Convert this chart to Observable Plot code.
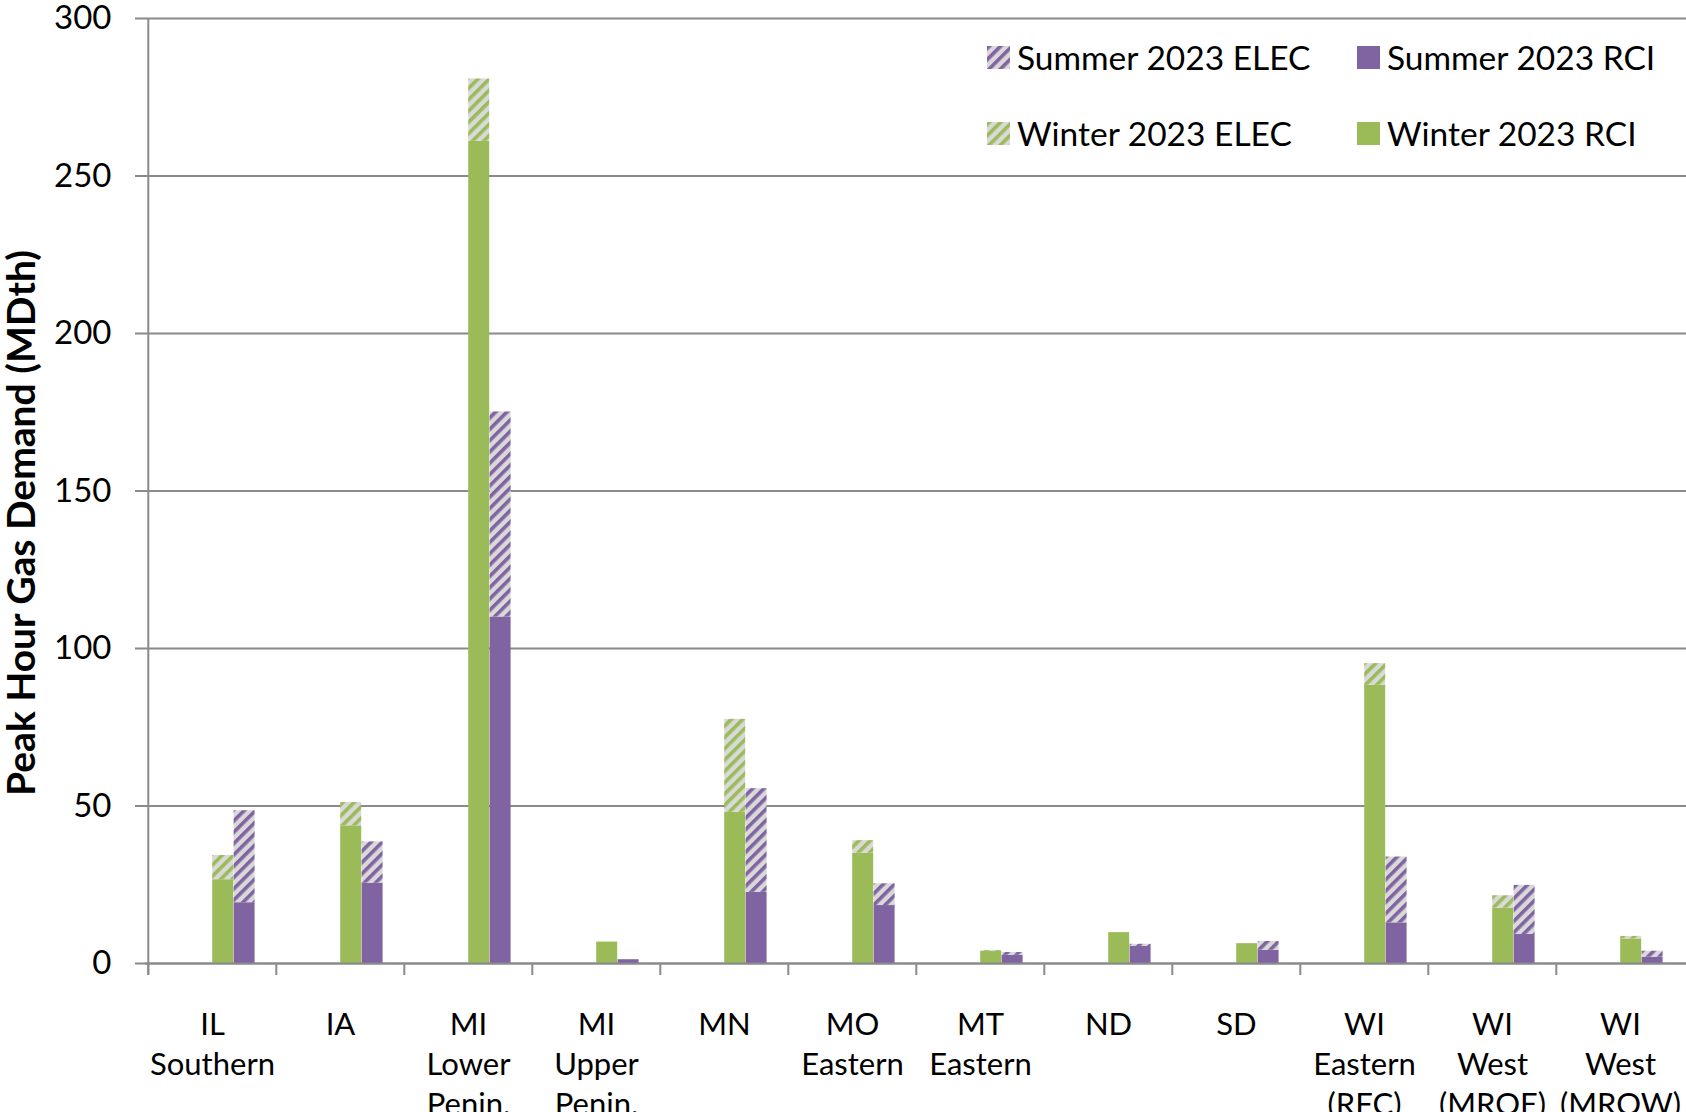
<!DOCTYPE html>
<html>
<head>
<meta charset="utf-8">
<script src="https://cdn.jsdelivr.net/npm/d3@7"></script>
<script src="https://cdn.jsdelivr.net/npm/@observablehq/plot@0.6"></script>
<style>
  body { margin: 0; background: #fff; font-family: Lato, sans-serif; }
  #wrap { position: relative; width: 1686px; height: 1112px; overflow: hidden; }
  #legend { position: absolute; left: 987px; top: 37px; display: grid;
            grid-template-columns: 370px auto; grid-auto-rows: 76px; }
  .item { display: flex; align-items: center; height: 40px; font-size: 33.5px; color: #000; white-space: nowrap; }
  .item svg { margin-right: 7px; flex: none; }
</style>
</head>
<body>
<svg width="0" height="0" style="position:absolute">
  <defs>
    <pattern id="hatch-w" patternUnits="userSpaceOnUse" width="8" height="8" patternTransform="rotate(45)">
      <rect width="8" height="8" fill="#d9d9d9"></rect>
      <rect width="3.6" height="8" fill="#9bbb59"></rect>
    </pattern>
    <pattern id="hatch-s" patternUnits="userSpaceOnUse" width="8" height="8" patternTransform="rotate(45)">
      <rect width="8" height="8" fill="#d9d9d9"></rect>
      <rect width="3.6" height="8" fill="#8064a2"></rect>
    </pattern>
  </defs>
</svg>
<div id="wrap">
  <div id="chart"></div>
  <div id="legend"></div>
</div>
<script>
// ---- data ----
const regions = ["IL\nSouthern", "IA", "MI\nLower\nPenin.", "MI\nUpper\nPenin.", "MN", "MO\nEastern",
                 "MT\nEastern", "ND", "SD", "WI\nEastern\n(RFC)", "WI\nWest\n(MROE)", "WI\nWest\n(MROW)"];
const winterRCI  = [26.6, 43.7, 261.0, 6.8, 48.0, 35.0, 3.8, 9.8, 6.3, 88.3, 17.6, 7.8];
const winterELEC = [7.7, 7.4, 19.8, 0.0, 29.5, 4.0, 0.3, 0.0, 0.0, 6.9, 3.9, 0.8];
const summerRCI  = [19.3, 25.5, 110.0, 1.2, 22.6, 18.4, 2.6, 5.4, 4.2, 12.9, 9.2, 2.0];
const summerELEC = [29.2, 13.1, 65.1, 0.0, 32.9, 6.9, 0.9, 0.7, 2.8, 20.9, 15.6, 1.9];
const seriesNames = ["Winter 2023 RCI", "Winter 2023 ELEC", "Summer 2023 RCI", "Summer 2023 ELEC"];
const seriesFills = ["#9bbb59", "url(#hatch-w)", "#8064a2", "url(#hatch-s)"];
const legendOrder = ["Summer 2023 ELEC", "Summer 2023 RCI", "Winter 2023 ELEC", "Winter 2023 RCI"];
const yTicks = [0, 50, 100, 150, 200, 250, 300];
const yTitle = "Peak Hour Gas Demand (MDth)";

// ---- table ----
const rows = [];
regions.forEach((r, i) => {
  rows.push({region: r, season: "Winter", order: 0, series: seriesNames[0], value: winterRCI[i]});
  rows.push({region: r, season: "Winter", order: 1, series: seriesNames[1], value: winterELEC[i]});
  rows.push({region: r, season: "Summer", order: 0, series: seriesNames[2], value: summerRCI[i]});
  rows.push({region: r, season: "Summer", order: 1, series: seriesNames[3], value: summerELEC[i]});
});

const W = 1686, H = 1112;
const mL = 145, mR = 0, mT = 18, mB = 149;
const band = (W - mL - mR) / regions.length;
const slot = band / 6;
const grid = "#8a8a8a";

const chart = Plot.plot({
  width: W, height: H,
  marginLeft: mL, marginRight: mR, marginTop: mT, marginBottom: mB,
  style: {fontFamily: "Lato, sans-serif", fontSize: "30px", color: "#000", background: "#fff", overflow: "visible"},
  x: {domain: regions, padding: 0, axis: null},
  y: {domain: [0, 300], axis: null},
  color: {domain: seriesNames, range: seriesFills},
  marks: [
    Plot.ruleY(yTicks, {stroke: grid, strokeWidth: 2, insetLeft: -10}),
    Plot.barY(rows.filter(d => d.season === "Winter"),
      Plot.stackY({x: "region", y: "value", fill: "series", order: "order",
                   insetLeft: 3 * slot, insetRight: 2 * slot})),
    Plot.barY(rows.filter(d => d.season === "Summer"),
      Plot.stackY({x: "region", y: "value", fill: "series", order: "order",
                   insetLeft: 4 * slot, insetRight: slot})),
    Plot.ruleX(regions, {x: d => d, y1: 0, y2: 0, dx: -band / 2, insetBottom: -12, stroke: grid, strokeWidth: 2}),
    Plot.ruleX([regions[0]], {x: d => d, y1: 300, y2: 0, dx: -band / 2, insetBottom: -12, stroke: grid, strokeWidth: 2}),
    Plot.ruleY([0], {stroke: grid, strokeWidth: 2}),
    Plot.text(yTicks, {y: d => d, text: d => String(d), frameAnchor: "left", dx: -34, textAnchor: "end",
                       fontSize: 33, fill: "#000"}),
    Plot.text(regions, {x: d => d, text: d => d, frameAnchor: "bottom", lineAnchor: "top", dy: 43,
                        fontSize: 31, lineHeight: 1.29, fill: "#000"}),
    Plot.text([yTitle], {text: d => d, frameAnchor: "left", textAnchor: "middle", rotate: -90, dx: -123, dy: 32,
                         fontSize: 39, fontWeight: "bold", fill: "#000"})
  ]
});
document.getElementById("chart").appendChild(chart);

// ---- legend ----
const legend = document.getElementById("legend");
legendOrder.forEach(name => {
  const fill = seriesFills[seriesNames.indexOf(name)];
  const item = document.createElement("div");
  item.className = "item";
  item.innerHTML = `<svg width="23" height="23"><rect width="23" height="23" fill="${fill}"></rect></svg><span>${name}</span>`;
  legend.appendChild(item);
});
</script>
</body>
</html>
